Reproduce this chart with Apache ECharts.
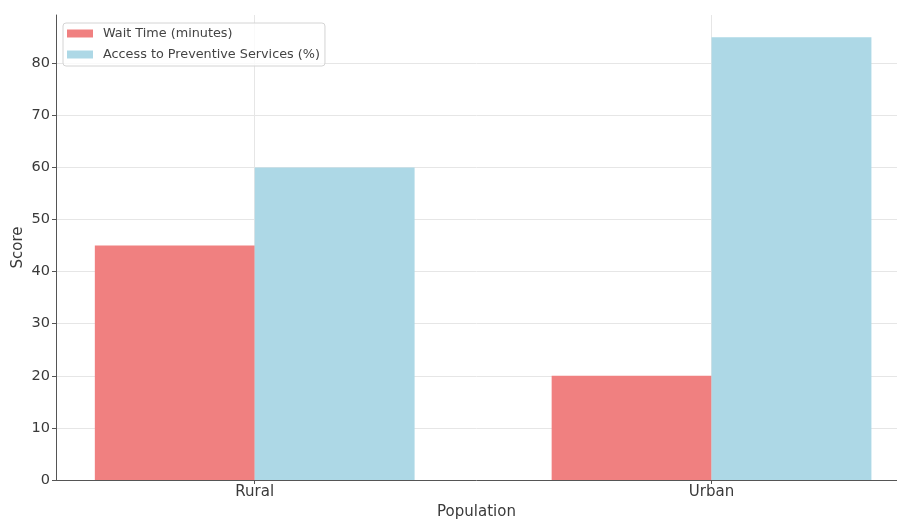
<!DOCTYPE html>
<html>
<head>
<meta charset="utf-8">
<script src="https://cdn.jsdelivr.net/npm/echarts@6/dist/echarts.min.js"></script>
<style>
  html, body { margin: 0; padding: 0; background: #fff; }
  #chart { width: 897px; height: 519px; }
</style>
</head>
<body>
<div id="chart"></div>
<script>
// Population groups and their scores
const categories = ['Rural', 'Urban'];
const waitTime = [45, 20];          // Wait Time (minutes)
const preventiveAccess = [60, 85];  // Access to Preventive Services (%)
const yTicks = [0, 10, 20, 30, 40, 50, 60, 70, 80];

const FONT = 'DejaVu Sans';
const TEXT = '#3a3a3a';
const chart = echarts.init(document.getElementById('chart'));

// bars sit at numeric positions 0,1 so the x range can be asymmetric
const positions = categories.map((_, i) => i);
const toPairs = vals => vals.map((v, i) => [positions[i], v]);

chart.setOption({
  animation: false,
  textStyle: { fontFamily: FONT },
  grid: { left: 56, right: 0, top: 15, bottom: 39, containLabel: false, outerBoundsMode: 'none' },
  legend: {
    orient: 'vertical',
    left: 63, top: 23,
    icon: 'rect',
    itemWidth: 26, itemHeight: 8, itemGap: 8,
    padding: [4, 5, 5, 4],
    borderColor: '#d4d4d4', borderWidth: 1, borderRadius: 3,
    backgroundColor: 'rgba(255,255,255,0.8)',
    textStyle: { fontFamily: FONT, fontSize: 12.8, color: '#444', padding: [0, 0, 0, 5] },
    data: ['Wait Time (minutes)', 'Access to Preventive Services (%)']
  },
  xAxis: {
    type: 'value',
    min: -0.435, max: 1.406,
    name: 'Population', nameLocation: 'middle', nameGap: 25, nameMoveOverlap: false,
    nameTextStyle: { fontFamily: FONT, fontSize: 15, color: TEXT },
    axisLine: { onZero: false, lineStyle: { color: '#555', width: 1 } },
    axisTick: { show: true, length: 4, customValues: positions, lineStyle: { color: '#555' } },
    axisLabel: {
      customValues: positions, margin: 5,
      fontFamily: FONT, fontSize: 15, color: TEXT,
      formatter: v => categories[Math.round(v)]
    },
    splitLine: { show: true, lineStyle: { color: '#e6e6e6', width: 1 } }
  },
  yAxis: {
    type: 'value',
    min: 0, max: 89.25,
    name: 'Score', nameLocation: 'middle', nameGap: 30, nameRotate: 90, nameMoveOverlap: false,
    nameTextStyle: { fontFamily: FONT, fontSize: 15, color: TEXT },
    axisLine: { show: true, onZero: false, lineStyle: { color: '#555', width: 1 } },
    axisTick: { show: true, length: 4, customValues: yTicks, lineStyle: { color: '#555' } },
    axisLabel: {
      customValues: yTicks, margin: 6,
      fontFamily: FONT, fontSize: 14.5, color: TEXT
    },
    splitLine: { show: true, lineStyle: { color: '#e6e6e6', width: 1 } }
  },
  series: [
    {
      name: 'Wait Time (minutes)', type: 'bar',
      data: toPairs(waitTime),
      barWidth: '35%', barGap: '0%',
      itemStyle: { color: '#F08080' }
    },
    {
      name: 'Access to Preventive Services (%)', type: 'bar',
      data: toPairs(preventiveAccess),
      barWidth: '35%', barGap: '0%',
      itemStyle: { color: '#ADD8E6' }
    }
  ]
});
</script>
</body>
</html>
